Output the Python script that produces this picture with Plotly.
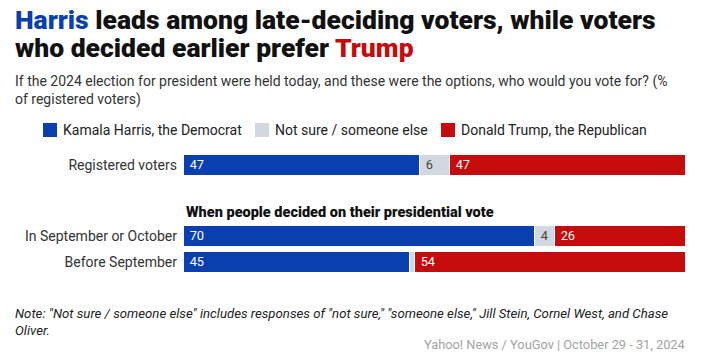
import plotly.graph_objects as go

categories = ["Registered voters", "In September or October", "Before September"]
series_names = ["Kamala Harris, the Democrat", "Not sure / someone else", "Donald Trump, the Republican"]
harris = [47, 70, 45]
not_sure = [6, 4, 1]
trump = [47, 26, 54]
not_sure_labels = ["6", "4", ""]

colors = ["#0a3fb0", "#d3d7df", "#c50b0b"]
text_colors = ["white", "#444444", "white"]
y_pos = [0, 2.73, 3.73]

W, H = 701, 353
L, R, T, B = 184, 15, 140, 68
PW, PH = W - L - R, H - T - B

def px(x):
    return (x - L) / PW

def py(y):
    return (H - B - y) / PH

fig = go.Figure()
vals = [harris, not_sure, trump]
labels = [[" " + str(v) for v in harris], [" " + s if s else "" for s in not_sure_labels],
          [" " + str(v) for v in trump]]
for i in range(3):
    fig.add_trace(go.Bar(
        y=y_pos, x=vals[i], orientation="h", name=series_names[i],
        marker=dict(color=colors[i], line=dict(color="white", width=1)),
        text=labels[i], textposition="inside", insidetextanchor="start", textangle=0,
        textfont=dict(color=text_colors[i], size=14.5, family="Roboto"),
        width=0.82, showlegend=False, hoverinfo="skip", cliponaxis=False,
    ))

fig.update_layout(
    barmode="stack", width=W, height=H,
    margin=dict(l=L, r=R, t=T, b=B, pad=0),
    plot_bgcolor="white", paper_bgcolor="white",
    font=dict(family="Roboto", color="#222222"),
    bargap=0,
    uniformtext=dict(minsize=8, mode="show"),
)
fig.update_xaxes(range=[0, 100], visible=False, fixedrange=True)
fig.update_yaxes(range=[4.6, -0.98], tickvals=y_pos, ticktext=categories,
                 showgrid=False, zeroline=False, showline=False, ticks="",
                 tickfont=dict(size=14, color="#333333", family="Roboto"),
                 ticklabelstandoff=6, fixedrange=True)

ann = []
title_lines = ["<span style='color:#0a3fb0'>Harris</span> leads among late-deciding voters, while voters",
               "who decided earlier prefer <span style='color:#c50b0b'>Trump</span>"]
for t, yy in zip(title_lines, [20, 47]):
    ann.append(dict(text=t, x=px(13), y=py(yy), xanchor="left", yanchor="middle",
                    font=dict(size=26.5, color="#111111", family="Roboto", weight=900), align="left"))
subtitle = ("If the 2024 election for president were held today, and these were the options, who would you vote for? (%<br>"
            "of registered voters)")
ann.append(dict(text=subtitle, x=px(13), y=py(71), xanchor="left", yanchor="top",
                font=dict(size=14, color="#333333", family="Roboto"), align="left"))
ann.append(dict(text="When people decided on their presidential vote", x=px(184), y=py(212),
                xanchor="left", yanchor="middle",
                font=dict(size=14.5, color="#111111", family="Roboto", weight=900)))
note_lines = ["Note: \"Not sure / someone else\" includes responses of \"not sure,\" \"someone else,\" Jill Stein, Cornel West, and Chase",
              "Oliver."]
for t, yy in zip(note_lines, [313, 330]):
    ann.append(dict(text=t, x=px(13), y=py(yy), xanchor="left", yanchor="middle",
                    font=dict(size=13.2, color="#222222", family="Roboto", style="italic"), align="left"))
ann.append(dict(text="Yahoo! News / YouGov | October 29 - 31, 2024", x=px(687), y=py(344),
                xanchor="right", yanchor="middle", font=dict(size=12.8, color="#a3a3a3", family="Roboto")))

legend_x = [43, 255, 441]
shapes = []
for i in range(3):
    shapes.append(dict(type="rect", xref="paper", yref="paper",
                       x0=px(legend_x[i]), x1=px(legend_x[i] + 14), y0=py(137), y1=py(123),
                       fillcolor=colors[i], line=dict(width=0)))
    ann.append(dict(text=series_names[i], x=px(legend_x[i] + 18), y=py(130), xanchor="left",
                    yanchor="middle", font=dict(size=14, color="#222222", family="Roboto")))

for a in ann:
    a.update(xref="paper", yref="paper", showarrow=False)
fig.update_layout(annotations=ann, shapes=shapes)

fig.write_html("out.html")
